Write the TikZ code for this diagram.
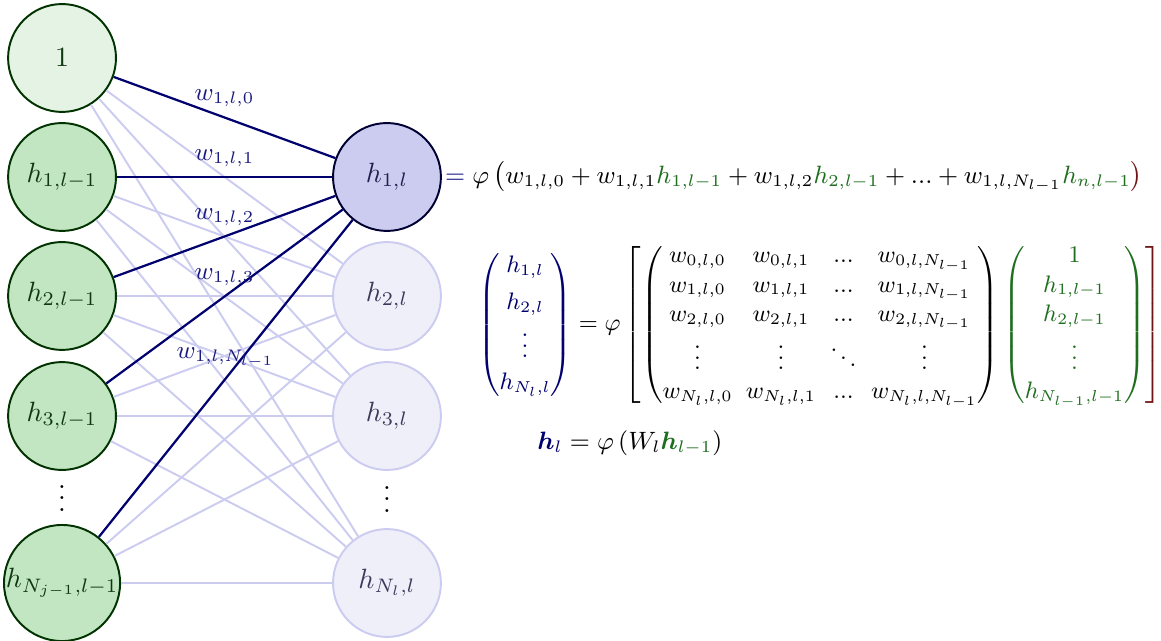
\documentclass[tikz,border=0pt]{standalone}
\usepackage{amsmath}
\usepackage{bm}
\usepackage{tikz}
\definecolor{inpfill}{RGB}{194,229,194}
\definecolor{biasfill}{RGB}{229,243,229}
\definecolor{inpdraw}{RGB}{0,51,0}
\definecolor{inptext}{RGB}{16,56,16}
\definecolor{actfill}{RGB}{204,204,240}
\definecolor{actdraw}{RGB}{0,0,51}
\definecolor{acttext}{RGB}{32,32,80}
\definecolor{fntfill}{RGB}{239,239,250}
\definecolor{fntdraw}{RGB}{204,204,240}
\definecolor{fnttext}{RGB}{58,58,90}
\definecolor{navy}{RGB}{0,0,110}
\definecolor{wnavy}{RGB}{26,26,128}
\definecolor{eqgreen}{RGB}{30,110,30}
\definecolor{darkred}{RGB}{110,20,20}

\tikzset{
	every node/.style={font=\small},
	neuron/.style={circle, minimum size=1.36cm, inner sep=0pt, line width=0.7pt, font=\normalsize},
	input/.style={neuron, draw=inpdraw, fill=inpfill, text=inptext},
	bias/.style={neuron, draw=inpdraw, fill=biasfill, text=inptext},
	active/.style={neuron, draw=actdraw, fill=actfill, text=acttext},
	faint/.style={neuron, draw=fntdraw, fill=fntfill, text=fnttext},
	lightedge/.style={draw=fntdraw, line width=0.7pt},
	darkedge/.style={draw=navy, line width=0.8pt},
	wlabel/.style={midway, above, text=wnavy}
}

\begin{document}
\begin{tikzpicture}
			%%%%% START %%%%%
			\useasboundingbox (0,0) rectangle (14.635,-8.08);
			
			% layer l-1
			\node[bias] (b) at (0.782,-0.731) {$1$};
			\node[input] (i1) at (0.782,-2.231) {$h_{1,l-1}$};
			\node[input] (i2) at (0.782,-3.731) {$h_{2,l-1}$};
			\node[input] (i3) at (0.782,-5.244) {$h_{3,l-1}$};
			\node[font=\normalsize] (idots) at (0.782,-6.177) {$\vdots$};
			\node[input] (iN) at (0.782,-7.349) {$h_{N_{j-1},l-1}$};
			
			% layer l
			\node[active] (o1) at (4.878,-2.231) {$h_{1,l}$};
			\node[faint] (o2) at (4.878,-3.731) {$h_{2,l}$};
			\node[faint] (o3) at (4.878,-5.244) {$h_{3,l}$};
			\node[font=\normalsize] (odots) at (4.878,-6.19) {$\vdots$};
			\node[faint] (oN) at (4.878,-7.349) {$h_{N_l,l}$};
			
			\foreach \a in {b,i1,i2,i3,iN}
				\foreach \c in {o2,o3,oN}
					\draw[lightedge] (\a) -- (\c);
			
			\draw[darkedge] (b) -- node[wlabel] {$w_{1,l,0}$} (o1);
			\draw[darkedge] (i1) -- node[wlabel] {$w_{1,l,1}$} (o1);
			\draw[darkedge] (i2) -- node[wlabel] {$w_{1,l,2}$} (o1);
			\draw[darkedge] (i3) -- node[wlabel] {$w_{1,l,3}$} (o1);
			\draw[darkedge] (iN) -- node[wlabel] {$w_{1,l,N_{l-1}}$} (o1);
			
			% equations
			\node[anchor=west, inner sep=1pt] (eqone) at (o1.east) {$\mathrel{\textcolor{wnavy}{=}} \varphi\left(w_{1,l,0} + w_{1,l,1}\textcolor{eqgreen}{h_{1,l-1}} + w_{1,l,2}\textcolor{eqgreen}{h_{2,l-1}} + ... + w_{1,l,N_{l-1}}\textcolor{eqgreen}{h_{n,l-1}}\color{darkred}\right)$};
			
			\node[inner sep=0pt, scale=0.95, transform shape] (eqmat) at (10.337,-4.097) {\setlength{\arraycolsep}{2.5pt}$\textcolor{navy}{\begin{pmatrix} h_{1,l}\\[3pt] h_{2,l}\\ \vdots\\[1pt] h_{N_l,l}\end{pmatrix}} = \varphi\left[\begin{pmatrix}
				w_{0,l,0} & w_{0,l,1} & ... & w_{0,l,N_{l-1}}\\
				w_{1,l,0} & w_{1,l,1} & ... & w_{1,l,N_{l-1}}\\
				w_{2,l,0} & w_{2,l,1} & ... & w_{2,l,N_{l-1}}\\
				\vdots & \vdots & \ddots & \vdots\\
				w_{N_l,l,0} & w_{N_l,l,1} & ... & w_{N_l,l,N_{l-1}}
			\end{pmatrix}\textcolor{eqgreen}{\begin{pmatrix} \normalsize 1\\ h_{1,l-1}\\ h_{2,l-1}\\ \vdots\\ h_{N_{l-1},l-1}\end{pmatrix}}\color{darkred}\right]$};
			
			\node (eqvec) at (7.94,-5.584) {$\textcolor{navy}{\bm{h}_l} = \varphi\left(W_l\textcolor{eqgreen}{\bm{h}_{l-1}}\right)$};
			%%%%% END %%%%%
\end{tikzpicture}
\end{document}
